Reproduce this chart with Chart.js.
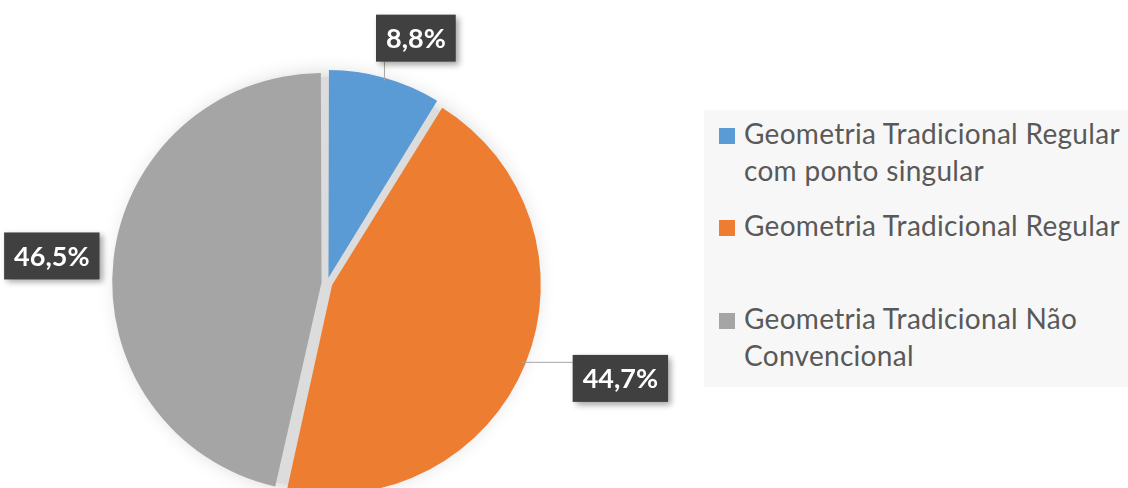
<!DOCTYPE html>
<html>
<head>
<meta charset="utf-8">
<script src="https://cdn.jsdelivr.net/npm/chart.js@4/dist/chart.umd.min.js"></script>
<style>
html, body { margin: 0; padding: 0; background: #fff; overflow: hidden; width: 1128px; height: 488px; }
#wrap { position: relative; width: 1128px; height: 488px; overflow: hidden; }
#chart { position: absolute; left: 0; top: 0; }
#legend { position: absolute; left: 704px; top: 110px; width: 424px; height: 277px; background: #f7f7f7;
  font-family: Lato, "Open Sans", sans-serif; font-size: 28px; letter-spacing: 0.3px; color: #595959; }
.item { position: absolute; left: 0; line-height: 37px; padding-left: 40px; white-space: nowrap; }
.sw { position: absolute; left: 15px; top: 13px; width: 16px; height: 16px; }
</style>
</head>
<body>
<div id="wrap">
  <canvas id="chart" width="1128" height="566"></canvas>
  <div id="legend"></div>
</div>
<script>
// data
const categories = ['Geometria Tradicional Regular com ponto singular', 'Geometria Tradicional Regular', 'Geometria Tradicional Não Convencional'];
const legendLines = [['Geometria Tradicional Regular', 'com ponto singular'], ['Geometria Tradicional Regular'], ['Geometria Tradicional Não', 'Convencional']];
const percents = [8.8, 44.7, 46.5];
const colors = ['#5b9bd5', '#ed7d31', '#a5a5a5'];

// label placement (px beyond the rim, angle tweak in degrees, leader line on/off)
const labelDist = [50, 98, 66];
const labelShift = [4.2, -4.2, -0.7];
const showLeader = [true, true, false];
const legendTops = [5, 97, 190];

const OFFSET = 22;

// soft shadow + grey backing behind the slices
const backdrop = {
  id: 'backdrop',
  beforeDatasetsDraw(chart) {
    const arc = chart.getDatasetMeta(0).data[0];
    const ctx = chart.ctx;
    ctx.save();
    ctx.shadowColor = 'rgba(0,0,0,0.22)';
    ctx.shadowBlur = 22;
    ctx.fillStyle = '#dcdcdc';
    ctx.beginPath();
    ctx.arc(arc.x, arc.y, arc.outerRadius + 1, 0, Math.PI * 2);
    ctx.fill();
    ctx.restore();
  }
};

// dark boxed percentage labels with leader lines
const valueLabels = {
  id: 'valueLabels',
  afterDatasetsDraw(chart) {
    const ctx = chart.ctx;
    chart.getDatasetMeta(0).data.forEach((arc, i) => {
      const mid = (arc.startAngle + arc.endAngle) / 2;
      const r = arc.outerRadius;
      const cx = arc.x + Math.cos(mid) * OFFSET / 4;
      const cy = arc.y + Math.sin(mid) * OFFSET / 4;
      const a = mid + labelShift[i] * Math.PI / 180;
      const d = r + labelDist[i];
      const bx = cx + Math.cos(a) * d, by = cy + Math.sin(a) * d;
      const text = percents[i].toFixed(1).replace('.', ',') + '%';
      ctx.save();
      ctx.font = 'bold 27px Lato, "Open Sans", sans-serif';
      const w = ctx.measureText(text).width + 20, h = 47;
      const x0 = bx - w / 2, y0 = by - h / 2;
      // leader line
      const ex = cx + Math.cos(mid) * r, ey = cy + Math.sin(mid) * r;
      const px = Math.min(Math.max(ex, x0), x0 + w), py = Math.min(Math.max(ey, y0), y0 + h);
      if (showLeader[i]) {
        ctx.strokeStyle = '#a6a6a6';
        ctx.lineWidth = 1;
        ctx.beginPath();
        ctx.moveTo(ex, ey);
        ctx.lineTo(px, py);
        ctx.stroke();
      }
      ctx.shadowColor = 'rgba(0,0,0,0.35)';
      ctx.shadowBlur = 6;
      ctx.shadowOffsetX = 3;
      ctx.shadowOffsetY = 3;
      ctx.fillStyle = '#404040';
      ctx.fillRect(x0, y0, w, h);
      ctx.shadowColor = 'transparent';
      ctx.fillStyle = '#ffffff';
      ctx.textAlign = 'center';
      ctx.textBaseline = 'middle';
      ctx.fillText(text, bx, by + 1);
      ctx.restore();
    });
  }
};

new Chart(document.getElementById('chart').getContext('2d'), {
  type: 'pie',
  data: {
    labels: categories,
    datasets: [{
      data: percents,
      backgroundColor: colors,
      borderWidth: 0,
      offset: OFFSET
    }]
  },
  options: {
    responsive: false,
    animation: false,
    events: [],
    layout: { padding: { left: 111, top: 67, right: 585, bottom: 67 } },
    plugins: {
      legend: { display: false },
      tooltip: { enabled: false }
    }
  },
  plugins: [backdrop, valueLabels]
});

// legend
const legend = document.getElementById('legend');
legendLines.forEach((lines, i) => {
  const item = document.createElement('div');
  item.className = 'item';
  item.style.top = legendTops[i] + 'px';
  const sw = document.createElement('span');
  sw.className = 'sw';
  sw.style.background = colors[i];
  item.appendChild(sw);
  lines.forEach((t, j) => {
    if (j) item.appendChild(document.createElement('br'));
    item.appendChild(document.createTextNode(t));
  });
  legend.appendChild(item);
});
</script>
</body>
</html>
